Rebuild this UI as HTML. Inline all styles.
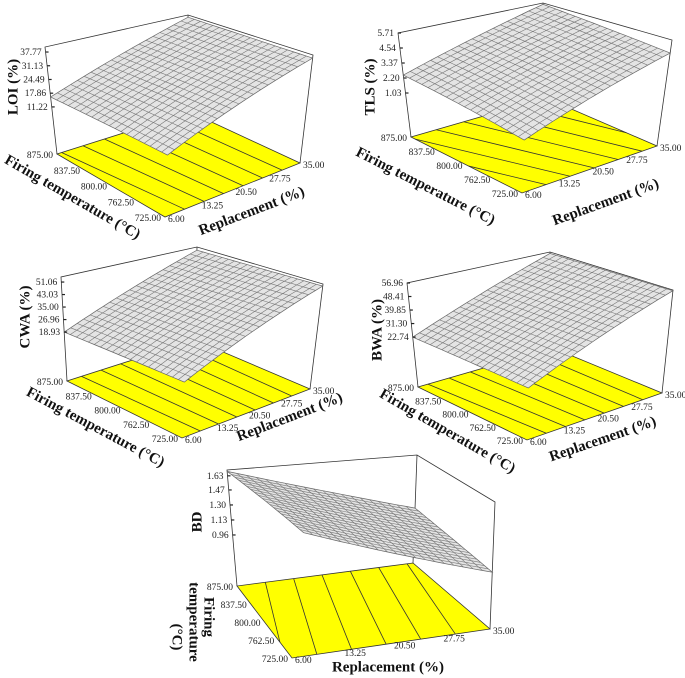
<!DOCTYPE html>
<html><head><meta charset="utf-8">
<style>
html,body{margin:0;padding:0;background:#fff;}
svg{display:block;font-family:"Liberation Serif",serif;}
.tk{font-size:9.5px;fill:#222;}
.tt{font-size:15px;font-weight:bold;fill:#111;}
</style></head>
<body>
<svg id="chart" width="685" height="678" viewBox="0 0 685 678" xmlns="http://www.w3.org/2000/svg"></svg>
<script>
// ---- data ----
const replacementTicks = [6.00, 13.25, 20.50, 27.75, 35.00];
const temperatureTicks = [725.00, 762.50, 800.00, 837.50, 875.00];
const loiTicks = [11.22, 17.86, 24.49, 31.13, 37.77];
const tlsTicks = [1.03, 2.20, 3.37, 4.54, 5.71];
const cwaTicks = [18.93, 26.96, 35.00, 43.03, 51.06];
const bwaTicks = [22.74, 31.30, 39.85, 48.41, 56.96];
const bdTicks = [0.96, 1.13, 1.30, 1.47, 1.63];
// surface corner values: [ (6,875), (6,725), (35,725), (35,875) ]
const loiCorners = [16.0, 13.1, 38.7, 39.0];
const tlsCorners = [2.43, 1.09, 4.71, 5.6];
const cwaCorners = [18.9, 17.6, 53.0, 52.0];
const bwaCorners = [22.7, 19.9, 56.5, 56.0];
const bdCorners = [1.68, 1.55, 0.97, 1.05];

const NS = "http://www.w3.org/2000/svg";
const svg = document.getElementById('chart');
function mk(tag, attrs, parent){
  const e = document.createElementNS(NS, tag);
  for (const k in attrs) e.setAttribute(k, attrs[k]);
  (parent||svg).appendChild(e);
  return e;
}
const panels = [
 {id:'loi', title:'LOI (%)', ticks:loiTicks, corners:loiCorners, zF:-11.55, zT:40.2,
  L:[57,154],F:[165,217],R:[300,163],B:[190,112],
  TL:[45,47],TF:[170,87],TR:[313,55],TB:[188,15],
  zTitle:[14,87], fT:[72,198,30], rT:[252,212,-21]},
 {id:'tls', title:'TLS (%)', ticks:tlsTicks, corners:tlsCorners, zF:-2.40, zT:5.71,
  L:[411,137],F:[522,193],R:[657,146],B:[546,98],
  TL:[398,33],TF:[527,70],TR:[672,40],TB:[543,3],
  zTitle:[371,87], fT:[425,187,27], rT:[606,203,-20]},
 {id:'cwa', title:'CWA (%)', ticks:cwaTicks, corners:cwaCorners, zF:-12.5, zT:54.3,
  L:[67,381],F:[182,438],R:[310,389],B:[195,340],
  TL:[61,277],TF:[187,314],TR:[323,284],TB:[197,247],
  zTitle:[26,317], fT:[95,428,28], rT:[290,418,-21]},
 {id:'bwa', title:'BWA (%)', ticks:bwaTicks, corners:bwaCorners, zF:-8.84, zT:56.96,
  L:[418,387],F:[527,440],R:[662,393],B:[553,348],
  TL:[407,283],TF:[530,321],TR:[673,290],TB:[550,252],
  zTitle:[378,330], fT:[447,432,30], rT:[603,440,-19]},
 {id:'bd', title:'BD', ticks:bdTicks, corners:bdCorners, zF:0.382, zT:1.696,
  L:[237,586],F:[292,658],R:[490,629],B:[413,563],
  TL:[227,470],TF:[305,517],TR:[495,502],TB:[417,455],
  zTitle:[198,522], fT:null, rT:null}
];
function lerp(a,b,t){return [a[0]+(b[0]-a[0])*t, a[1]+(b[1]-a[1])*t];}
function bil(p,u,v,key){
  const F=p[key[0]],R=p[key[1]],B=p[key[2]],L=p[key[3]];
  const a=lerp(F,R,u), b=lerp(L,B,u); return lerp(a,b,v);
}
function zVal(p,u,v){
  const c=p.corners;
  const a=c[1]+(c[2]-c[1])*u, b=c[0]+(c[3]-c[0])*u; return a+(b-a)*v;
}
function proj(p,u,v,z){
  const f=bil(p,u,v,['F','R','B','L']), t=bil(p,u,v,['TF','TR','TB','TL']);
  return lerp(f,t,(z-p.zF)/(p.zT-p.zF));
}
const xU = r => (r-replacementTicks[0])/(replacementTicks[4]-replacementTicks[0]);
const xV = t => (t-temperatureTicks[0])/(temperatureTicks[4]-temperatureTicks[0]);
function pts(a){return a.map(q=>q[0].toFixed(1)+','+q[1].toFixed(1)).join(' ');}

panels.forEach(p=>{
  const g = mk('g',{});
  
  
  const box = mk('polyline',{points:pts([p.L,p.TL,p.TB,p.TR,p.R]),fill:'none',stroke:'#333','stroke-width':0.8},g);
  
  
  const bv = mk('line',{x1:p.TB[0],y1:p.TB[1],x2:p.B[0],y2:p.B[1],stroke:'#333','stroke-width':0.8},g);
  
  
  const fl = mk('polygon',{points:pts([p.L,p.F,p.R,p.B]),fill:'#ffff00',stroke:'#333','stroke-width':0.8},g);
  
  
  const c=p.corners, zmin=Math.min(...c), zmax=Math.max(...c);
  const nLev=7;
  for(let k=1;k<nLev;k++){
    const lev=zmin+(zmax-zmin)*k/nLev;
    const edges=[[[0,1],[1,1]],[[0,0],[1,0]],[[0,0],[0,1]],[[1,0],[1,1]]];
    const hits=[];
    edges.forEach(e=>{
      const z0=zVal(p,e[0][0],e[0][1]), z1=zVal(p,e[1][0],e[1][1]);
      if((lev-z0)*(lev-z1)<=0 && z0!==z1){
        const t=(lev-z0)/(z1-z0);
        hits.push(bil(p,e[0][0]+(e[1][0]-e[0][0])*t,e[0][1]+(e[1][1]-e[0][1])*t,['F','R','B','L']));
      }
    });
    if(hits.length>=2){
      const ln=mk('line',{x1:hits[0][0],y1:hits[0][1],x2:hits[1][0],y2:hits[1][1],stroke:'#333','stroke-width':0.8},g);
      
      
    }
  }
  const N=20;
  const outline=[];
  for(let i=0;i<=N;i++) outline.push(proj(p,i/N,0,zVal(p,i/N,0)));
  for(let j=0;j<=N;j++) outline.push(proj(p,1,j/N,zVal(p,1,j/N)));
  for(let i=N;i>=0;i--) outline.push(proj(p,i/N,1,zVal(p,i/N,1)));
  for(let j=N;j>=0;j--) outline.push(proj(p,0,j/N,zVal(p,0,j/N)));
  const sf=mk('polygon',{points:pts(outline),fill:'#e4e4e4',stroke:'#666','stroke-width':0.7},g);
  
  
  for(let i=1;i<N;i++){
    const a=[],b=[];
    for(let j=0;j<=N;j++){a.push(proj(p,i/N,j/N,zVal(p,i/N,j/N))); b.push(proj(p,j/N,i/N,zVal(p,j/N,i/N)));}
    const l1=mk('polyline',{points:pts(a),fill:'none',stroke:'#777','stroke-width':0.6},g);
    
    
    const l2=mk('polyline',{points:pts(b),fill:'none',stroke:'#777','stroke-width':0.6},g);
    
    
  }
  p.ticks.forEach(z=>{
    const q=lerp(p.L,p.TL,(z-p.zF)/(p.zT-p.zF));
    const tm=mk('line',{x1:q[0],y1:q[1],x2:q[0]+3,y2:q[1],stroke:'#222','stroke-width':1.2},g);
    
    
    const t=mk('text',{x:q[0]-4,y:q[1]+3,'text-anchor':'end',class:'tk'},g);
    t.textContent=z.toFixed(2);
    
    
  });
  temperatureTicks.forEach(tv=>{
    const q=lerp(p.F,p.L,xV(tv));
    const t=mk('text',{x:q[0]-4,y:q[1]+4,'text-anchor':'end',class:'tk'},g);
    t.textContent=tv.toFixed(2);
    
    
  });
  replacementTicks.forEach(rv=>{
    const q=lerp(p.F,p.R,xU(rv));
    const t=mk('text',{x:q[0]+3,y:q[1]+5,'text-anchor':'start',class:'tk'},g);
    t.textContent=rv.toFixed(2);
    
    
  });
  const zt=mk('text',{x:p.zTitle[0],y:p.zTitle[1],'text-anchor':'middle',class:'tt',transform:`rotate(-90 ${p.zTitle[0]} ${p.zTitle[1]})`,'dominant-baseline':'middle'},g);
  zt.textContent=p.title;
  
  
  if(p.fT){
    const ft=mk('text',{x:p.fT[0],y:p.fT[1],'text-anchor':'middle',class:'tt',transform:`rotate(${p.fT[2]} ${p.fT[0]} ${p.fT[1]})`,'dominant-baseline':'middle'},g);
    ft.textContent='Firing temperature (°C)';
    
    
    const rt=mk('text',{x:p.rT[0],y:p.rT[1],'text-anchor':'middle',class:'tt',transform:`rotate(${p.rT[2]} ${p.rT[0]} ${p.rT[1]})`,'dominant-baseline':'middle'},g);
    rt.textContent='Replacement (%)';
    
    
  } else {
    [['Firing',208,617],['temperature',193,622],['(°C)',176,637]].forEach(w=>{
      const ft=mk('text',{x:w[1],y:w[2],'text-anchor':'middle',class:'tt',transform:`rotate(90 ${w[1]} ${w[2]})`,'dominant-baseline':'middle'},g);
      ft.textContent=w[0];
      
      
    });
    const rt=mk('text',{x:388,y:668,'text-anchor':'middle',class:'tt','dominant-baseline':'middle'},g);
    rt.textContent='Replacement (%)';
    
    
  }
});
</script>
</body></html>
